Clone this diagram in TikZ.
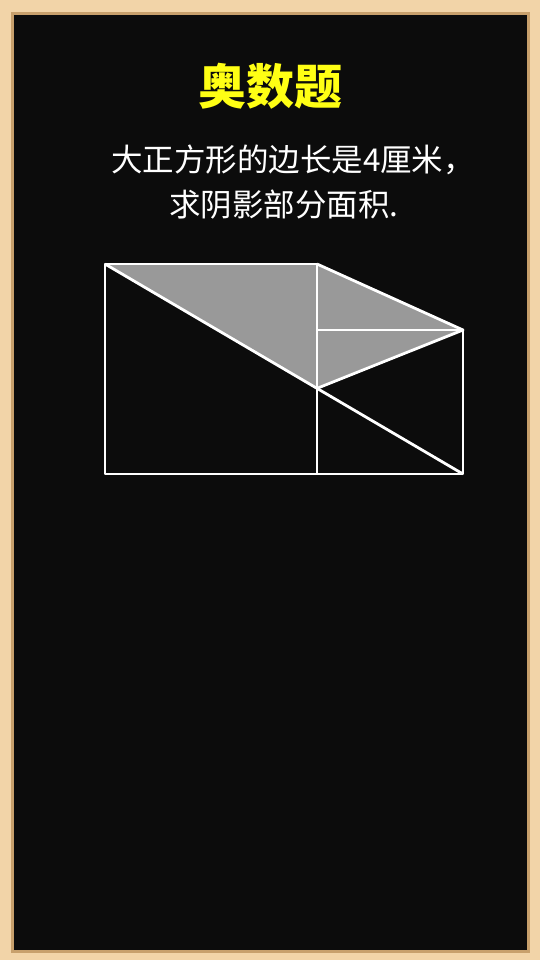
\documentclass[tikz,border=0pt]{standalone}
\usepackage{fontspec}
\newfontfamily\cjk{Noto Sans CJK SC}
\definecolor{wood}{RGB}{242,212,168}
\definecolor{woodedge}{RGB}{200,160,108}
\definecolor{board}{RGB}{12,12,12}
\definecolor{shadegray}{RGB}{153,153,153}
\definecolor{titleyellow}{RGB}{255,255,20}
\begin{document}
\begin{tikzpicture}[x=1pt,y=-1pt,
  question/.style={text=white,inner sep=0pt,font=\cjk\fontsize{31.5}{31.5}\selectfont},
  edge/.style={draw=white,line width=2.8pt,line join=round}]
% frame and board
\fill[wood] (0,0) rectangle (540,960);
\fill[woodedge] (11,12) rectangle (530,953);
\fill[board] (14,15) rectangle (527,950);
% title and question
\node[text=titleyellow,inner sep=0pt,font=\cjk\bfseries\fontsize{48}{48}\selectfont] (title) at (270,86) {奥数题};
\node[question] (line1) at (293,160) {大正方形的边长是4厘米，};
\node[question] (line2) at (284,205) {求阴影部分面积.};
% the two squares
\coordinate (A) at (105,264);
\coordinate (B) at (317,264);
\coordinate (C) at (317,474);
\coordinate (D) at (105,474);
\coordinate (G) at (317,330);
\coordinate (E) at (463,330);
\coordinate (F) at (463,474);
\path (A) -- (F) coordinate[pos=0.5922] (M);
\fill[shadegray] (A) -- (B) -- (E) -- (M) -- cycle;
\draw[edge] (A) -- (B) -- (C) -- (D) -- cycle;
\draw[edge] (G) -- (E) -- (F) -- (C);
\draw[edge] (A) -- (F);
\draw[edge] (B) -- (E) -- (M);
\end{tikzpicture}
\end{document}
